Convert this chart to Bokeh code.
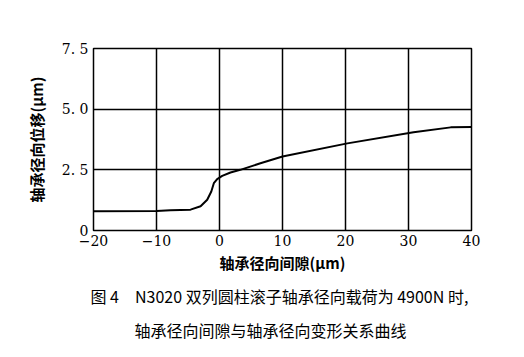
from bokeh.plotting import figure
from bokeh.models import Range1d, FixedTicker, Title
from bokeh.embed import file_html
from bokeh.resources import INLINE

# data
clearance = [-20, -10, -7.8, -4.6, -3.0, -1.95, -1.3, -0.9, -0.37, 0.43, 1.75, 3.3, 6.5, 10, 20.3, 30.8, 36.7, 40]
displacement = [0.79, 0.80, 0.83, 0.86, 1.0, 1.27, 1.61, 1.95, 2.12, 2.25, 2.39, 2.5, 2.77, 3.05, 3.59, 4.05, 4.25, 4.27]

x_ticks = [-20, -10, 0, 10, 20, 30, 40]
x_tick_labels = ["−20", "−10", "0", "10", "20", "30", "40"]
y_ticks = [0, 2.5, 5.0, 7.5]
y_tick_labels = ["0", "2. 5", "5. 0", "7. 5"]

x_label = "轴承径向间隙(μm)"
y_label = "轴承径向位移(μm)"
caption1 = "图 4　N3020 双列圆柱滚子轴承径向载荷为 4900N 时,"
caption2 = "轴承径向间隙与轴承径向变形关系曲线"

SERIF = "DejaVu Serif"
CJK = "Noto Sans CJK SC"

p = figure(width=508, height=341, output_backend="svg", toolbar_location=None,
           x_range=Range1d(-20, 40), y_range=Range1d(0, 7.5),
           min_border_left=93, min_border_top=48, min_border_right=37, min_border_bottom=0)
p.background_fill_color = "white"
p.border_fill_color = "white"
p.outline_line_color = "black"
p.outline_line_width = 1.5

p.line(clearance, displacement, line_color="black", line_width=2)

p.xaxis.ticker = FixedTicker(ticks=x_ticks)
p.yaxis.ticker = FixedTicker(ticks=y_ticks)
p.xaxis.major_label_overrides = {t: l for t, l in zip(x_ticks, x_tick_labels)}
p.yaxis.major_label_overrides = {t: l for t, l in zip(y_ticks, y_tick_labels)}

for ax in (p.xaxis, p.yaxis):
    ax.major_tick_in = 0
    ax.major_tick_out = 0
    ax.minor_tick_in = 0
    ax.minor_tick_out = 0
    ax.axis_line_color = None
    ax.major_label_text_font = SERIF
    ax.major_label_text_font_size = "14px"
    ax.major_label_text_color = "black"
    ax.axis_label_text_font = CJK
    ax.axis_label_text_font_style = "bold"
    ax.axis_label_text_color = "black"

p.xaxis.axis_label = x_label
p.yaxis.axis_label = y_label
p.xaxis.axis_label_text_font_size = "15px"
p.yaxis.axis_label_text_font_size = "15px"
p.xaxis.major_label_standoff = 4
p.yaxis.major_label_standoff = 5
p.xaxis.axis_label_standoff = 3
p.yaxis.axis_label_standoff = 12

p.xgrid.ticker = FixedTicker(ticks=x_ticks)
p.ygrid.ticker = FixedTicker(ticks=y_ticks)
for g in (p.xgrid, p.ygrid):
    g.grid_line_color = "black"
    g.grid_line_width = 1.5
    g.grid_line_alpha = 1.0

t1 = Title(text=caption1, align="left", offset=-3, vertical_align="middle",
           text_font=CJK, text_font_size="16px", text_font_style="normal",
           text_color="black", standoff=14)
t2 = Title(text=caption2, align="left", offset=41, vertical_align="bottom",
           text_font=CJK, text_font_size="16px", text_font_style="normal",
           text_color="black", standoff=0)
p.add_layout(t1, "below")
p.add_layout(t2, "below")

open("out.html", "w").write(file_html(p, INLINE))
